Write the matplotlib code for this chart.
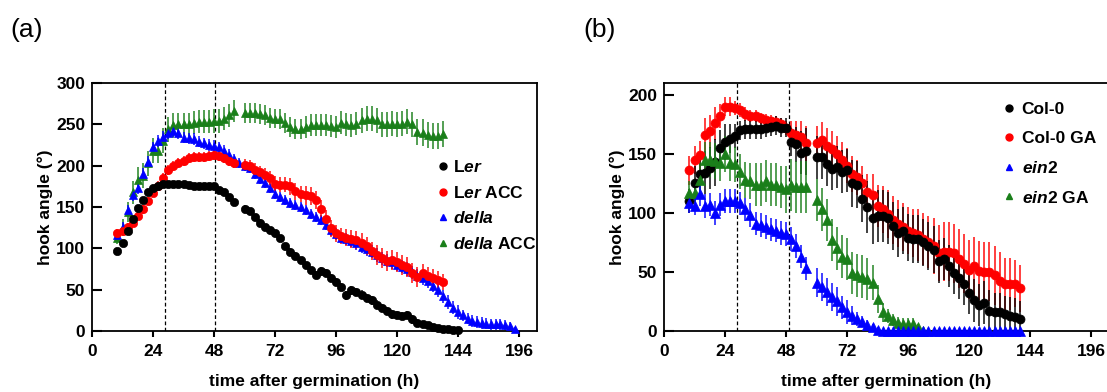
import numpy as np
import matplotlib
matplotlib.use("Agg")
import matplotlib.pyplot as plt
from matplotlib.lines import Line2D

plt.rcParams['font.family'] = ['Liberation Sans', 'DejaVu Sans']
plt.rcParams['font.weight'] = 'bold'
plt.rcParams['mathtext.fontset'] = 'custom'
plt.rcParams['mathtext.it'] = 'Liberation Sans:bold:italic'
plt.rcParams['mathtext.rm'] = 'Liberation Sans:bold'
plt.rcParams['mathtext.bf'] = 'Liberation Sans:bold'

nan = np.nan

# ---------------- panel (a) data ----------------
t_a_black = list(range(10, 146, 2))
ler = [97, 106, 121, 136, 149, 159, 168, 173, 176, 178, 178, 178, 178, 178, 177, 176, 175, 175, 175, 175,
       171, 168, 162, 156, nan, 148, 145, 138, 131, 126, 122, 118, 112, 103, 96, 91, 86, 80, 74, 68,
       72, 70, 64, 59, 53, 43, 49, 47, 44, 40, 37, 32, 28, 24, 20, 19, 18, 19, 14, 10,
       8, 7, 5, 4, 3, 2, 1, 1]
ler_err = [3, 3, 3, 3, 3, 3, 3, 3, 3, 3, 3, 3, 3, 3, 3, 3, 3, 3, 3, 3,
           3, 3, 3, 3, nan, 4, 4, 4, 4, 4, 4, 4, 4, 4, 4, 4, 4, 4, 4, 4,
           5, 5, 5, 5, 5, 5, 5, 5, 5, 5, 5, 5, 5, 5, 5, 5, 5, 5, 5, 4,
           4, 4, 3, 3, 3, 2, 2, 2]

t_a_red = list(range(10, 140, 2))
ler_acc = [118, 121, 126, 131, 139, 147, 157, 167, 176, 185, 195, 200, 203, 206, 209, 210, 211, 211, 212, 213,
           212, 209, 206, 203, nan, 201, 200, 195, 192, 189, 185, 178, 177, 177, 175, 169, 166, 164, 163, 158,
           148, 136, 124, 118, 115, 113, 111, 110, 107, 103, 97, 92, 88, 85, 86, 83, 80, 77, 70, 65,
           70, 67, 64, 62, 59]
ler_acc_err = [5, 5, 5, 5, 5, 5, 5, 5, 5, 6, 6, 6, 6, 6, 6, 6, 6, 6, 6, 6,
               6, 6, 6, 6, nan, 7, 7, 8, 8, 8, 8, 9, 9, 9, 10, 10, 10, 11, 11, 11,
               10, 10, 10, 10, 10, 10, 11, 11, 11, 11, 11, 12, 12, 12, 12, 12, 12, 12, 12, 12,
               11, 11, 11, 10, 10]

t_a_blue = list(range(10, 146, 2)) + list(range(148, 196, 4))
della = [116, 126, 146, 164, 173, 190, 205, 222, 230, 235, 239, 242, 239, 234, 233, 232, 229, 227, 225, 224,
         222, 218, 213, 208, 203, 200, 197, 190, 184, 179, 173, 166, 162, 158, 155, 152, 150, 146, 142, 138,
         134, 128, 122, 117, 113, 111, 109, 106, 102, 99, 96, 92, 88, 85, 83, 80, 78, 75, 71, 67,
         64, 60, 55, 49, 42, 35, 28, 23,
         19, 15, 12, 11, 10, 9, 8, 8, 8, 7, 6, 2]
della_err = [6, 6, 7, 7, 7, 7, 7, 7, 7, 7, 7, 7, 7, 7, 7, 7, 7, 7, 7, 7,
             7, 7, 7, 6, 6, 6, 6, 6, 6, 6, 6, 6, 6, 6, 6, 6, 6, 6, 6, 6,
             6, 6, 7, 7, 7, 7, 7, 8, 8, 8, 8, 8, 8, 8, 8, 8, 8, 8, 8, 8,
             8, 8, 8, 8, 8, 8, 8, 8,
             7, 7, 7, 7, 7, 7, 7, 7, 7, 6, 5, 3]

t_a_green = list(range(10, 140, 2))
della_acc = [113, 125, 144, 168, 183, 188, 203, 218, 218, 230, 244, 249, 250, 250, 250, 252, 253, 253, 253, 254,
             254, 257, 261, 266, nan, 264, 264, 264, 263, 261, 258, 257, 256, 252, 247, 244, 244, 247, 249, 249,
             249, 249, 248, 247, 252, 250, 249, 251, 255, 257, 257, 255, 250, 250, 251, 250, 251, 253, 250, 241,
             240, 237, 236, 236, 238]
della_acc_err = [8, 10, 12, 14, 15, 15, 15, 15, 15, 15, 15, 15, 14, 14, 14, 14, 14, 14, 14, 14,
                 14, 14, 14, 13, nan, 12, 12, 12, 12, 12, 12, 12, 12, 12, 12, 12, 12, 13, 13, 13,
                 13, 13, 13, 13, 14, 14, 14, 14, 15, 15, 15, 15, 15, 15, 15, 15, 15, 15, 15, 16,
                 16, 16, 16, 16, 16]

# ---------------- panel (b) data ----------------
t_b = list(range(10, 142, 2))
col0 = [110, 125, 133, 134, 138, 143, 155, 160, 163, 165, 170, 171, 171, 171, 171, 172, 173, 174, 172, 172,
        160, 158, 151, 152, nan, 147, 147, 141, 137, 139, 135, 136, 125, 124, 112, 105, 96, 97, 97, 96,
        89, 83, 85, 79, 78, 78, 75, 72, 69, 59, 61, 55, 49, 45, 40, 32, 26, 22, 24, 17,
        16, 16, 14, 13, 12, 10]
col0_err = [10, 15, 15, 18, 18, 20, 15, 15, 12, 10, 8, 8, 8, 8, 8, 8, 8, 8, 8, 8,
            12, 15, 18, 20, nan, 18, 18, 18, 18, 18, 18, 18, 20, 20, 20, 22, 22, 22, 22, 22,
            20, 20, 20, 20, 20, 20, 20, 20, 20, 18, 18, 18, 18, 18, 18, 18, 18, 18, 18, 18,
            16, 16, 16, 16, 16, 15]

col0_ga = [136, 145, 149, 166, 169, 176, 182, 190, 190, 189, 187, 184, 182, 182, 180, 179, 178, 177, 175, 172,
           168, 166, 164, 159, nan, 159, 162, 157, 154, 150, 145, 140, 133, 130, 125, 118, 115, 106, 103, 99,
           94, 91, 88, 85, 83, 81, 78, 75, 72, 66, 67, 67, 66, 61, 57, 52, 55, 51, 50, 50,
           47, 42, 40, 40, 40, 36]
col0_ga_err = [12, 12, 12, 14, 14, 14, 10, 8, 8, 6, 6, 6, 5, 5, 5, 5, 5, 5, 5, 6,
               10, 12, 14, 15, nan, 15, 15, 15, 15, 15, 15, 15, 15, 15, 15, 15, 18, 18, 20, 20,
               20, 20, 20, 20, 20, 22, 22, 22, 24, 24, 25, 25, 25, 25, 25, 25, 25, 25, 25, 25,
               25, 25, 22, 22, 20, 20]

ein2 = [108, 106, 116, 106, 107, 100, 107, 110, 110, 110, 108, 103, 98, 91, 90, 88, 86, 85, 83, 82,
        78, 72, 63, 53, nan, 41, 37, 33, 29, 25, 20, 16, 13, 10, 8, 5, 3, 1, 0, 0,
        0, 0, 0, 0, 0, 0, 0, 0, 0, 0, 0, 0, 0, 0, 0, 0, 0, 0, 0, 0,
        0, 0, 0, 0, 0, 0]
ein2_err = [8, 8, 10, 10, 10, 10, 10, 10, 10, 10, 10, 10, 10, 10, 10, 10, 10, 10, 10, 10,
            10, 10, 10, 10, nan, 12, 12, 12, 12, 12, 10, 10, 8, 6, 5, 4, 3, 2, 0, 0,
            0, 0, 0, 0, 0, 0, 0, 0, 0, 0, 0, 0, 0, 0, 0, 0, 0, 0, 0, 0,
            0, 0, 0, 0, 0, 0]

t_b_green = list(range(10, 104, 2))
ein2_ga = [117, 117, 128, 145, 145, 144, 142, 150, 142, 141, 135, 128, 127, 124, 124, 127, 124, 124, 122, 120,
           124, 122, 122, 122, nan, 111, 103, 94, 77, 70, 63, 61, 49, 47, 46, 44, 41, 27, 16, 13,
           9, 7, 6, 6, 6, 3, 0]
ein2_ga_err = [10, 12, 15, 15, 15, 15, 15, 15, 15, 15, 15, 15, 15, 18, 18, 18, 18, 18, 18, 20,
               22, 22, 22, 22, nan, 18, 18, 18, 18, 18, 18, 18, 18, 18, 18, 18, 15, 12, 8, 6,
               5, 5, 5, 5, 5, 3, 0]

x_ticks = [0, 24, 48, 72, 96, 120, 144, 196]
x_tick_labels = ['0', '24', '48', '72', '96', '120', '144', '196']
y_ticks_a = [0, 50, 100, 150, 200, 250, 300]
y_ticks_b = [0, 50, 100, 150, 200]
vlines_a = [28.6, 48.5]
vlines_b = [28.6, 49.2]

BLACK = '#000000'
RED = '#ff0000'
BLUE = '#0000ff'
GREEN = '#1a7f1a'


def fwd(x):
    x = np.asarray(x, dtype=float)
    return np.where(x <= 144, x, 144 + (x - 144) * 24.0 / 52.0)


def inv(p):
    p = np.asarray(p, dtype=float)
    return np.where(p <= 144, p, 144 + (p - 144) * 52.0 / 24.0)


fig = plt.figure(figsize=(11.07, 3.92), dpi=100)
W, H = 1107.0, 392.0
ax1 = fig.add_axes([92 / W, 61 / H, 445 / W, 248 / H])
ax2 = fig.add_axes([664 / W, 61 / H, 445 / W, 248 / H])


def series(ax, t, v, e, marker, color, ms):
    _, _, bars = ax.errorbar(t, v, yerr=e, fmt=marker, color=color, ms=ms, mec=color, mew=0.5,
                             elinewidth=1.4, capsize=0, clip_on=False, zorder=3)
    for b in bars:
        b.set_alpha(0.75)


series(ax1, t_a_green, della_acc, della_acc_err, '^', GREEN, 6)
series(ax1, t_a_blue, della, della_err, '^', BLUE, 6)
series(ax1, t_a_red, ler_acc, ler_acc_err, 'o', RED, 6)
series(ax1, t_a_black, ler, ler_err, 'o', BLACK, 6)

series(ax2, t_b, col0_ga, col0_ga_err, 'o', RED, 6.5)
series(ax2, t_b, col0, col0_err, 'o', BLACK, 6.5)
series(ax2, t_b_green, ein2_ga, ein2_ga_err, '^', GREEN, 6.5)
series(ax2, t_b, ein2, ein2_err, '^', BLUE, 6.5)

for ax, yt, ylim, vl in [(ax1, y_ticks_a, 300, vlines_a), (ax2, y_ticks_b, 210, vlines_b)]:
    ax.set_xscale('function', functions=(fwd, inv))
    ax.set_xlim(0, float(inv(175)))
    ax.set_ylim(0, ylim)
    ax.set_xticks(x_ticks)
    ax.set_xticklabels(x_tick_labels)
    ax.xaxis.set_minor_locator(matplotlib.ticker.NullLocator())
    ax.set_yticks(yt)
    for x in vl:
        ax.axvline(x, color='black', ls=(0, (3, 2)), lw=0.9, zorder=1)
    ax.tick_params(axis='y', direction='in', length=7, width=1.5, pad=5, labelsize=12.5)
    ax.tick_params(axis='x', direction='out', length=4.5, width=1.5, pad=5, labelsize=12.5)
    for s in ax.spines.values():
        s.set_linewidth(1.3)
    ax.set_xlabel('time after germination (h)', fontsize=12.5, fontweight='bold', labelpad=11)
    ax.set_ylabel('hook angle (°)', fontsize=12.5, fontweight='bold', labelpad=2)

labels_a = [r'L$\mathit{er}$', r'L$\mathit{er}$ ACC', r'$\mathit{della}$', r'$\mathit{della}$ ACC']
handles_a = [Line2D([], [], ls='none', marker='o', color=BLACK, ms=5),
             Line2D([], [], ls='none', marker='o', color=RED, ms=5),
             Line2D([], [], ls='none', marker='^', color=BLUE, ms=5),
             Line2D([], [], ls='none', marker='^', color=GREEN, ms=5)]
ax1.legend(handles_a, labels_a, loc='upper left', bbox_to_anchor=(0.757, 0.728), frameon=False,
           fontsize=12.5, handlelength=0.6, handletextpad=0.3, labelspacing=0.55, borderpad=0)

labels_b = ['Col-0', 'Col-0 GA', r'$\mathit{ein2}$', r'$\mathit{ein2}$ GA']
handles_b = [Line2D([], [], ls='none', marker='o', color=BLACK, ms=5),
             Line2D([], [], ls='none', marker='o', color=RED, ms=5),
             Line2D([], [], ls='none', marker='^', color=BLUE, ms=5),
             Line2D([], [], ls='none', marker='^', color=GREEN, ms=5)]
ax2.legend(handles_b, labels_b, loc='upper left', bbox_to_anchor=(0.745, 0.96), frameon=False,
           fontsize=12.5, handlelength=0.6, handletextpad=0.4, labelspacing=0.8, borderpad=0)

fig.text(10 / W, 1 - 30 / H, '(a)', fontsize=19, fontweight='normal', va='center', ha='left')
fig.text(583 / W, 1 - 30 / H, '(b)', fontsize=19, fontweight='normal', va='center', ha='left')

fig.savefig('out.png', dpi=100)
